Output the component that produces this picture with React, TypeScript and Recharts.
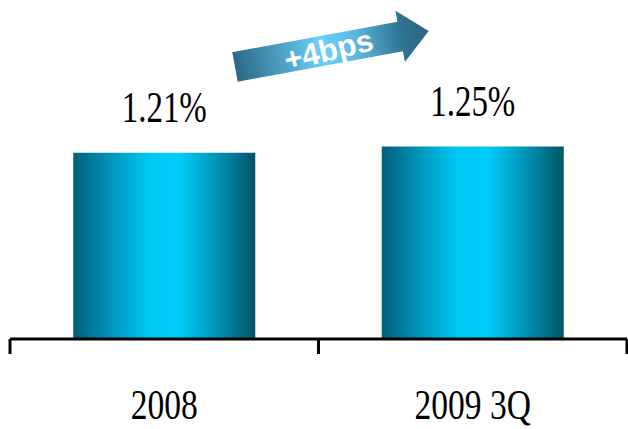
import { BarChart, Bar, XAxis, YAxis, LabelList } from "recharts";

const periods = ["2008", "2009 3Q"];
const ratios = [1.21, 1.25];
const changeLabel = "+4bps";

const data = periods.map((period, i) => ({ period, ratio: ratios[i] }));

const SERIF = "'Liberation Serif', 'Times New Roman', serif";

function PeriodTick(props: any) {
  const { x, y, payload, index, visibleTicksCount } = props;
  const half = payload && payload.offset ? payload.offset : 154.25;
  const isLast = index === visibleTicksCount - 1;
  return (
    <g>
      <line x1={x - half} y1={y} x2={x - half} y2={y + 15} stroke="#000" strokeWidth={3} />
      {isLast && (
        <line x1={x + half} y1={y} x2={x + half} y2={y + 15} stroke="#000" strokeWidth={3} />
      )}
      <text
        transform={`translate(${x},${y + 80}) scale(0.78,1)`}
        textAnchor="middle"
        fontFamily={SERIF}
        fontSize={43}
        fill="#000"
      >
        {payload.value}
      </text>
    </g>
  );
}

function ValueLabel(props: any) {
  const { x, y, width, value } = props;
  return (
    <text
      transform={`translate(${x + width / 2},${y - 31}) scale(0.75,1)`}
      textAnchor="middle"
      fontFamily={SERIF}
      fontSize={44}
      fill="#000"
    >
      {value.toFixed(2)}%
    </text>
  );
}

function ChangeArrow() {
  // arrow drawn in local coordinates, rotated upward
  return (
    <svg
      width={628}
      height={429}
      style={{ position: "absolute", left: 0, top: 0, pointerEvents: "none" }}
    >
      <defs>
        <linearGradient id="arrowFill" x1="0" y1="0" x2="1" y2="0">
          <stop offset="0%" stopColor="#2c6886" />
          <stop offset="45%" stopColor="#6ad0fa" />
          <stop offset="62%" stopColor="#5fb8e0" />
          <stop offset="85%" stopColor="#2f7595" />
          <stop offset="100%" stopColor="#2e6383" />
        </linearGradient>
      </defs>
      <g transform="translate(235,67) rotate(-10.5)">
        <polygon
          points="0,-15 168,-15 168,-26 197,0 168,26 168,15 0,15"
          fill="url(#arrowFill)"
        />
        <text
          x={95}
          y={11}
          transform="rotate(-3 95 0)"
          textAnchor="middle"
          fontFamily="'Liberation Sans', Arial, sans-serif"
          fontWeight="bold"
          fontSize={31}
          fill="#fff"
        >
          {changeLabel}
        </text>
      </g>
    </svg>
  );
}

export default function App() {
  return (
    <div style={{ position: "absolute", left: 0, top: 0, width: 628, height: 429, background: "#fff" }}>
      <svg width={0} height={0} style={{ position: "absolute" }}>
        <defs>
          <linearGradient id="barFill" x1="0" y1="0" x2="1" y2="0">
            <stop offset="0%" stopColor="#005f78" />
            <stop offset="22%" stopColor="#0098c0" />
            <stop offset="42%" stopColor="#00c8f4" />
            <stop offset="58%" stopColor="#00ccfa" />
            <stop offset="78%" stopColor="#0096ba" />
            <stop offset="100%" stopColor="#005466" />
          </linearGradient>
        </defs>
      </svg>
      <BarChart
        width={628}
        height={429}
        data={data}
        margin={{ top: 31, right: 1, left: 10, bottom: 0 }}
        barCategoryGap="20.5%"
      >
        <XAxis
          dataKey="period"
          height={90}
          axisLine={{ stroke: "#000", strokeWidth: 3 }}
          tickLine={false}
          tickSize={0}
          tickMargin={0}
          tick={<PeriodTick />}
          interval={0}
        />
        <YAxis hide domain={[0, 2]} />
        <Bar dataKey="ratio" fill="url(#barFill)" isAnimationActive={false}>
          <LabelList dataKey="ratio" content={<ValueLabel />} />
        </Bar>
      </BarChart>
      <ChangeArrow />
    </div>
  );
}
